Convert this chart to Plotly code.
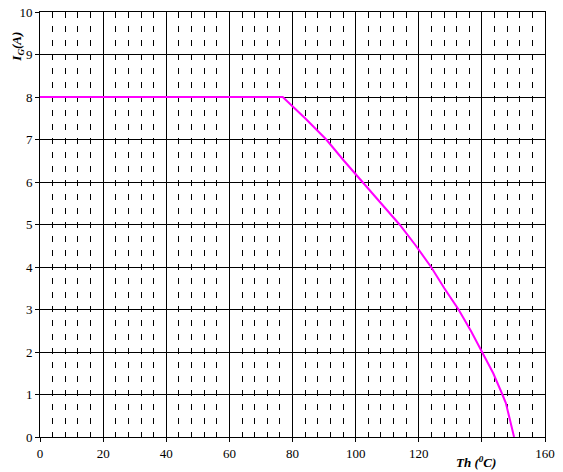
import plotly.graph_objects as go

# Derating curve: gate current limit versus heatsink temperature
temp_c = [0, 76.9, 84.0, 90.7, 96.3, 102.1, 107.9, 113.9, 119.1, 123.9,
          128.1, 132.6, 136.5, 140.0, 143.6, 146.5, 147.6, 150.2]
current_a = [8, 8, 7.5, 7, 6.5, 6, 5.5, 5, 4.5, 4,
             3.5, 3, 2.5, 2, 1.5, 1, 0.8, 0]

# The 140 position carries the axis title instead of a number
x_ticks = [0, 20, 40, 60, 80, 100, 120, 140, 160]
x_tick_labels = ["0", "20", "40", "60", "80", "100", "120", "", "160"]
y_ticks = [0, 1, 2, 3, 4, 5, 6, 7, 8, 9, 10]

FONT = "Liberation Serif"

fig = go.Figure()
fig.add_trace(go.Scatter(
    x=temp_c, y=current_a, mode="lines",
    line=dict(color="#FF00FF", width=2),
    showlegend=False, hoverinfo="skip",
))

fig.update_layout(
    width=563, height=472,
    margin=dict(l=40, r=18, t=12, b=35),
    paper_bgcolor="white", plot_bgcolor="white",
    font=dict(family=FONT, size=13, color="black"),
    xaxis=dict(
        range=[0, 160], tickvals=x_ticks, ticktext=x_tick_labels,
        automargin=False,
        showgrid=True, gridcolor="black", gridwidth=1,
        showline=True, linecolor="black", linewidth=1, mirror=True,
        ticks="outside", ticklen=4, tickcolor="black",
        zeroline=False,
        tickfont=dict(family=FONT, size=13),
        minor=dict(dtick=4, tick0=0, showgrid=True, gridcolor="black",
                   gridwidth=1, griddash="6px,8px", ticks=""),
    ),
    yaxis=dict(
        range=[0, 10], tickvals=y_ticks, ticktext=[str(v) for v in y_ticks],
        automargin=False,
        showgrid=True, gridcolor="black", gridwidth=1,
        showline=True, linecolor="black", linewidth=1, mirror=True,
        ticks="outside", ticklen=4, tickcolor="black",
        zeroline=False,
        tickfont=dict(family=FONT, size=13),
    ),
)

fig.add_annotation(
    text="<b><i>I<sub>G</sub>(A)</i></b>", textangle=-90,
    xref="paper", yref="paper", x=-0.044, y=0.918,
    xanchor="center", yanchor="middle", showarrow=False,
    font=dict(family=FONT, size=13, color="black"),
)
fig.add_annotation(
    text="<b><i>Th (<sup>0</sup>C)</i></b>",
    xref="x", yref="paper", x=138, y=-0.059,
    xanchor="center", yanchor="middle", showarrow=False,
    font=dict(family=FONT, size=13, color="black"),
)

fig.write_html("out.html")
